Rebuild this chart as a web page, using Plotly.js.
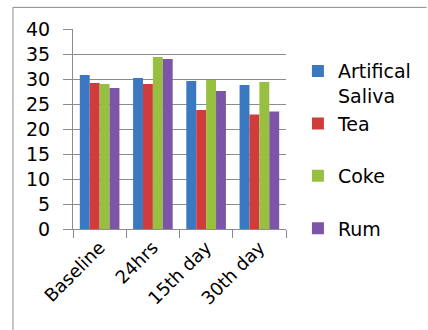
<!DOCTYPE html>
<html>
<head>
<meta charset="utf-8">
<script src="https://cdn.plot.ly/plotly-3.0.1.min.js"></script>
<style>html,body{margin:0;padding:0;background:#fff;}#chart{width:428px;height:330px;}</style>
</head>
<body>
<div id="chart"></div>
<script>
var categories = ["Baseline", "24hrs", "15th day", "30th day"];
var seriesNames = ["Artifical<br>Saliva", "Tea<br> ", "Coke<br> ", "Rum<br> "];
var artificalSaliva = [30.8, 30.2, 29.6, 28.8];
var tea = [29.2, 29.0, 23.8, 22.9];
var coke = [29.0, 34.4, 29.8, 29.4];
var rum = [28.2, 34.0, 27.6, 23.5];
var yTicks = [0, 5, 10, 15, 20, 25, 30, 35, 40];

var colors = ["#3b78c2", "#d03c3c", "#98c040", "#7d55a8"];
var values = [artificalSaliva, tea, coke, rum];

var traces = values.map(function (v, i) {
  return {
    type: "bar",
    x: categories,
    y: v,
    name: seriesNames[i],
    legendgroup: "g" + i,
    marker: { color: colors[i], line: { width: 0 } },
    hoverinfo: "x+y+name"
  };
});

var layout = {
  width: 428,
  height: 330,
  margin: { l: 73, r: 140, t: 29, b: 101, pad: 0 },
  paper_bgcolor: "#fff",
  plot_bgcolor: "#fff",
  font: { family: "'DejaVu Sans', Verdana, sans-serif", color: "#000" },
  barmode: "group",
  bargap: 0.256,
  bargroupgap: 0,
  showlegend: true,
  legend: {
    x: 1.056, y: 0.884, xanchor: "left", yanchor: "top",
    valign: "top",
    font: { size: 19, color: "#000" },
    tracegroupgap: 0,
    bgcolor: "rgba(0,0,0,0)",
    borderwidth: 0
  },
  xaxis: {
    type: "category",
    tickangle: -45,
    tickfont: { size: 18, color: "#000" },
    showgrid: false,
    showline: true,
    linecolor: "#8c8c8c",
    linewidth: 1,
    ticks: "outside",
    tickson: "boundaries",
    ticklen: 8,
    tickcolor: "#8c8c8c",
    zeroline: false,
    fixedrange: true
  },
  yaxis: {
    range: [0, 40],
    tickvals: yTicks,
    ticktext: yTicks.map(String),
    tickfont: { size: 19, color: "#000" },
    showgrid: true,
    gridcolor: "#8c8c8c",
    gridwidth: 1,
    showline: true,
    linecolor: "#8c8c8c",
    linewidth: 1,
    ticks: "outside",
    ticklen: 9,
    tickcolor: "#8c8c8c",
    ticklabelstandoff: 9,
    zeroline: false,
    fixedrange: true
  },
  shapes: [
    { type: "line", xref: "paper", yref: "paper", x0: -0.282, x1: 1.66, y0: 1.108, y1: 1.108, line: { color: "#8c8c8c", width: 1 } },
    { type: "line", xref: "paper", yref: "paper", x0: -0.282, x1: -0.282, y0: 1.108, y1: -0.53, line: { color: "#8c8c8c", width: 1 } }
  ]
};

Plotly.newPlot("chart", traces, layout, { displayModeBar: false, staticPlot: true });
</script>
</body>
</html>
